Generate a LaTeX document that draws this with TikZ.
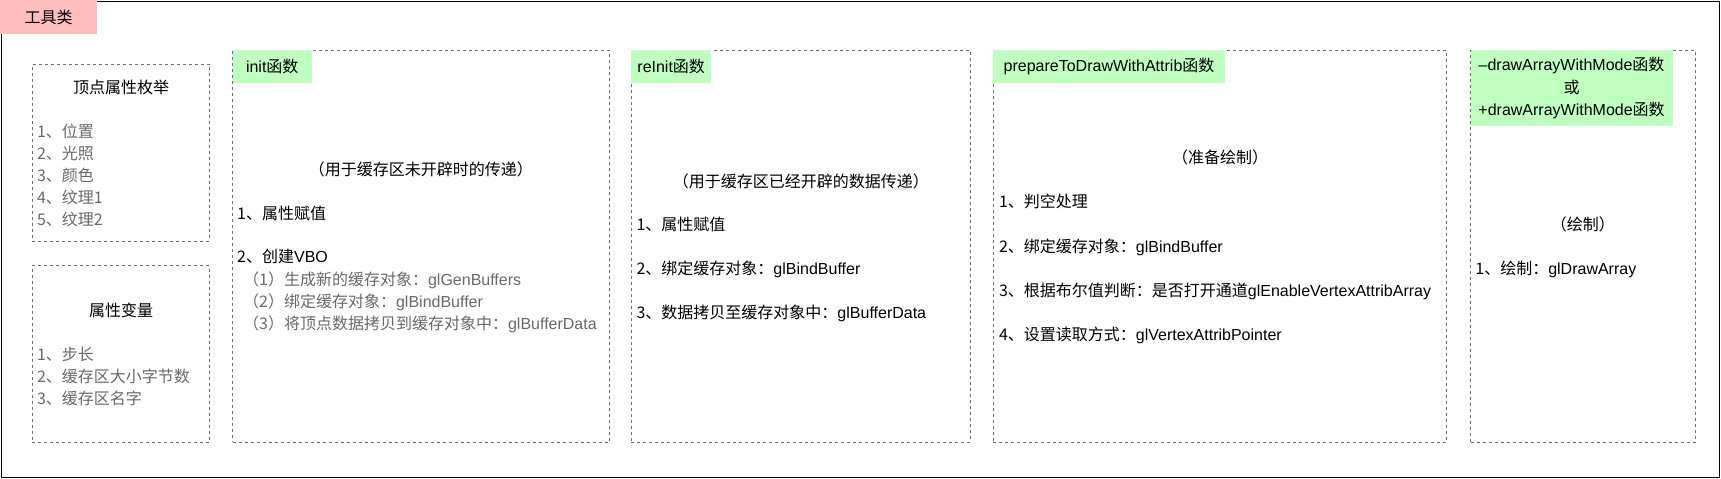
\documentclass[tikz,border=0pt]{standalone}
\usepackage{fontspec}
\setmainfont{Noto Sans CJK SC}
\newfontfamily\en{Liberation Sans}
\definecolor{pinkfill}{RGB}{255,191,191}
\definecolor{greenfill}{RGB}{191,255,191}
\definecolor{dashgray}{RGB}{110,110,110}
\definecolor{txtgray}{RGB}{105,105,105}
\tikzset{
  outerframe/.style={draw=black, line width=1.5pt, inner sep=0pt, outer sep=0pt, anchor=north west},
  dbox/.style={draw=dashgray, dash pattern=on 3pt off 3pt, line width=1pt, inner sep=0pt, outer sep=0pt, anchor=north west},
  lblbox/.style={fill=greenfill, inner sep=0pt, outer sep=0pt, anchor=north west, font=\fontsize{16}{22.5}\selectfont, align=center},
  txt/.style={inner sep=0pt, anchor=base west, font=\fontsize{16}{22}\selectfont, text=black},
  gtxt/.style={txt, text=txtgray},
  ctxt/.style={txt, anchor=base},
}
\begin{document}
\begin{tikzpicture}[x=1pt,y=-1pt]
\useasboundingbox (0,0) rectangle (1721,479);
% outer frame
\node[outerframe, minimum width=1718pt, minimum height=476pt] (outer) at (1.5,1.5) {};
\node[fill=pinkfill, inner sep=0pt, outer sep=0pt, anchor=north west, minimum width=97pt, minimum height=34pt, font=\fontsize{16}{20}\selectfont] (title) at (0,0) {工具类};

% box 1
\node[dbox, minimum width=177.2pt, minimum height=176.7pt] (b1) at (32.4,64.3) {};
\node[ctxt] (b1t) at (121,93.3) {顶点属性枚举};
\node[gtxt] (b1a) at (36.8,137) {1、位置};
\node[gtxt] (b1b) at (36.8,159.3) {2、光照};
\node[gtxt] (b1c) at (36.8,181.3) {3、颜色};
\node[gtxt] (b1d) at (36.8,203.3) {4、纹理1};
\node[gtxt] (b1e) at (36.8,225) {5、纹理2};

% box 2
\node[dbox, minimum width=177.2pt, minimum height=176.6pt] (b2) at (32.4,265.7) {};
\node[ctxt] (b2t) at (121,316) {属性变量};
\node[gtxt] (b2a) at (36.8,360) {1、步长};
\node[gtxt] (b2b) at (36.8,382.3) {2、缓存区大小字节数};
\node[gtxt] (b2c) at (36.8,404) {3、缓存区名字};

% init
\node[dbox, minimum width=376.5pt, minimum height=392pt] (init) at (232.5,50.3) {};
\node[lblbox, minimum width=79.5pt, minimum height=32.4pt] (initL) at (232.5,50.3) {{\en init}函数};
\node[ctxt] (initc) at (420.75,175.3) {（用于缓存区未开辟时的传递）};
\node[txt] (init1) at (237,219.3) {1、属性赋值};
\node[txt] (init2) at (237,262.7) {2、创建{\en VBO}};
\node[gtxt] (init2a) at (243,285.3) {（1）生成新的缓存对象：{\en glGenBuffers}};
\node[gtxt] (init2b) at (243,307) {（2）绑定缓存对象：{\en glBindBuffer}};
\node[gtxt] (init2c) at (243,329.3) {（3）将顶点数据拷贝到缓存对象中：{\en glBufferData}};

% reInit
\node[dbox, minimum width=339pt, minimum height=392pt] (reinit) at (631.4,50.3) {};
\node[lblbox, minimum width=79.6pt, minimum height=32.4pt] (reinitL) at (631.4,50.3) {{\en reInit}函数};
\node[ctxt] (reinitc) at (800.9,187) {（用于缓存区已经开辟的数据传递）};
\node[txt] (reinit1) at (636.4,230.3) {1、属性赋值};
\node[txt] (reinit2) at (636.4,274.3) {2、绑定缓存对象：{\en glBindBuffer}};
\node[txt] (reinit3) at (636.4,318.7) {3、数据拷贝至缓存对象中：{\en glBufferData}};

% prepare
\node[dbox, minimum width=453.4pt, minimum height=392pt] (prep) at (993.4,50.3) {};
\node[lblbox, minimum width=231.3pt, minimum height=32.4pt] (prepL) at (993.4,50.3) {{\en prepareToDrawWithAttrib}函数};
\node[ctxt] (prepc) at (1220.1,163.7) {（准备绘制）};
\node[txt] (prep1) at (998.8,207.7) {1、判空处理};
\node[txt] (prep2) at (998.8,252.7) {2、绑定缓存对象：{\en glBindBuffer}};
\node[txt] (prep3) at (998.8,296.7) {3、根据布尔值判断：是否打开通道{\en glEnableVertexAttribArray}};
\node[txt] (prep4) at (998.8,340.3) {4、设置读取方式：{\en glVertexAttribPointer}};

% draw
\node[dbox, minimum width=224.7pt, minimum height=392pt] (drw) at (1470.5,50.3) {};
\node[lblbox, minimum width=202.1pt, minimum height=75.4pt] (drwL) at (1470.5,50.3) {{\en –drawArrayWithMode}函数\\或\\{\en +drawArrayWithMode}函数};
\node[ctxt] (drwc) at (1582.9,230) {（绘制）};
\node[txt] (drw1) at (1475.2,274.3) {1、绘制：{\en glDrawArray}};
\end{tikzpicture}
\end{document}
